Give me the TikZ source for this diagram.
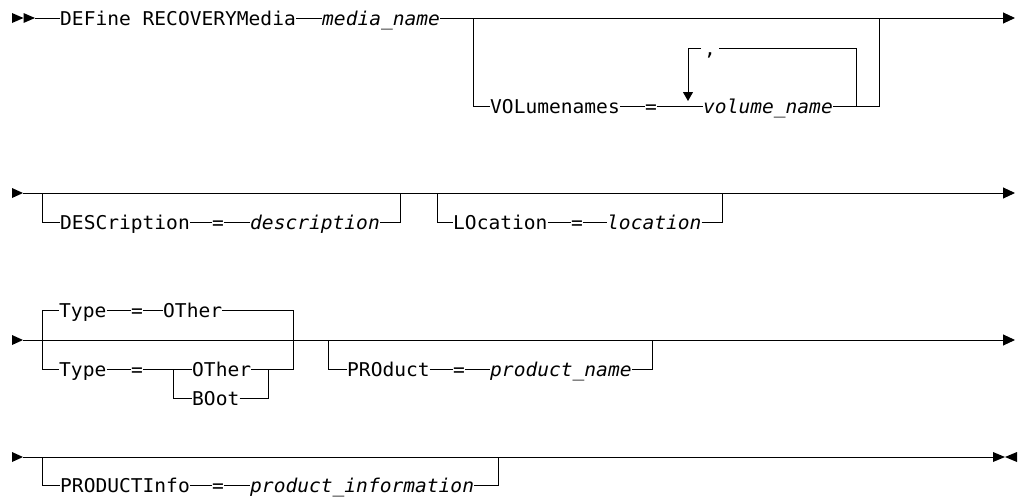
\documentclass[tikz,border=0pt]{standalone}
\usepackage{fontspec}
\setmonofont{DejaVu Sans Mono}[FakeStretch=1.03, ItalicFont={DejaVu Sans Mono Oblique}]
\usepackage{tikz}
\usetikzlibrary{arrows.meta}

\begin{document}
\begin{tikzpicture}[x=1pt, y=-1pt,
  rail/.style={line width=1pt},
  endarrow/.style={-{Triangle[length=12pt,width=11pt]}},
  kw/.style={font=\ttfamily\fontsize{19pt}{21pt}\selectfont, inner sep=0pt,
    text height=14pt, text depth=0pt, anchor=west},
  var/.style={kw, font=\ttfamily\itshape\fontsize{19pt}{21pt}\selectfont}]
\useasboundingbox (0,0) rectangle (1018,498);

% start and continuation marks
\foreach \x in {12,23.5}
  \fill (\x,13) -- ({\x+11.5},18) -- (\x,23) -- cycle;
\foreach \y in {193,340,457}
  \fill (12,{\y-5}) -- (23,\y) -- (12,{\y+5}) -- cycle;

% row 1: command, media name, volume names
\coordinate (s1) at (35,18);
\coordinate (e1) at (1015,18);
\node[kw] (dfn) at (60,18) {DEFine RECOVERYMedia};
\node[var] (mname) at (322,18) {media\_name};
\draw[rail] (s1) -- (dfn) -- (mname);
\draw[rail, endarrow] (mname) -- (e1);
\coordinate (b1a) at (473,18);
\coordinate (b1b) at (879,18);
\node[kw] (vol) at (490,106) {VOLumenames};
\node[kw] (eq1) at (645,106) {=};
\node[var] (vname) at (703,106) {volume\_name};
\draw[rail] (b1a) |- (vol) (vol) -- (eq1) -- (vname) -| (b1b);
% repeat loop
\coordinate (lp) at (856,106);
\coordinate (la) at (688,101);
\node[kw, inner xsep=3pt] (sep) at (701,48) {,};
\draw[rail, -{Triangle[length=9pt,width=10pt]}] (lp) |- (sep) (sep) -| (la);

% row 2: description, location
\coordinate (s2) at (23,193);
\coordinate (e2) at (1015,193);
\draw[rail, endarrow] (s2) -- (e2);
\coordinate (b2a) at (42,193);
\coordinate (b2b) at (400,193);
\node[kw] (desc) at (60,222) {DESCription};
\node[kw] (eq2) at (212,222) {=};
\node[var] (dval) at (250,222) {description};
\draw[rail] (b2a) |- (desc) (desc) -- (eq2) -- (dval) -| (b2b);
\coordinate (b2c) at (437,193);
\coordinate (b2d) at (722,193);
\node[kw] (loc) at (453,222) {LOcation};
\node[kw] (eq3) at (571,222) {=};
\node[var] (lval) at (607,222) {location};
\draw[rail] (b2c) |- (loc) (loc) -- (eq3) -- (lval) -| (b2d);

% row 3: type, product
\coordinate (s3) at (23,340);
\coordinate (e3) at (1015,340);
\draw[rail, endarrow] (s3) -- (e3);
\coordinate (b3a) at (42,340);
\coordinate (b3b) at (293,340);
\node[kw] (ty1) at (59,310) {Type};
\node[kw] (eq4) at (131,310) {=};
\node[kw] (oth1) at (163,310) {OTher};
\draw[rail] (b3a) |- (ty1) (ty1) -- (eq4) -- (oth1) -| (b3b);
\node[kw] (ty2) at (59,369) {Type};
\node[kw] (eq5) at (131,369) {=};
\node[kw] (oth2) at (192,369) {OTher};
\node[kw] (boo) at (192,398) {BOot};
\coordinate (n1) at (173,369);
\coordinate (n2) at (268,369);
\draw[rail] (b3a) |- (ty2) (ty2) -- (eq5) -- (oth2) -| (b3b);
\draw[rail] (n1) |- (boo) (boo) -| (n2);
\coordinate (b3c) at (328,340);
\coordinate (b3d) at (652,340);
\node[kw] (prod) at (347,369) {PROduct};
\node[kw] (eq6) at (453,369) {=};
\node[var] (pname) at (490,369) {product\_name};
\draw[rail] (b3c) |- (prod) (prod) -- (eq6) -- (pname) -| (b3d);

% row 4: product information, end mark
\coordinate (s4) at (23,457);
\coordinate (e4) at (993,457);
\draw[rail] (s4) -- (e4);
\fill (993,452) -- (1005,457) -- (993,462) -- cycle;
\fill (1017,452) -- (1005,457) -- (1017,462) -- cycle;
\coordinate (b4a) at (42,457);
\coordinate (b4b) at (498,457);
\node[kw] (pinf) at (60,485) {PRODUCTInfo};
\node[kw] (eq7) at (212,485) {=};
\node[var] (pival) at (250,485) {product\_information};
\draw[rail] (b4a) |- (pinf) (pinf) -- (eq7) -- (pival) -| (b4b);
\end{tikzpicture}
\end{document}
